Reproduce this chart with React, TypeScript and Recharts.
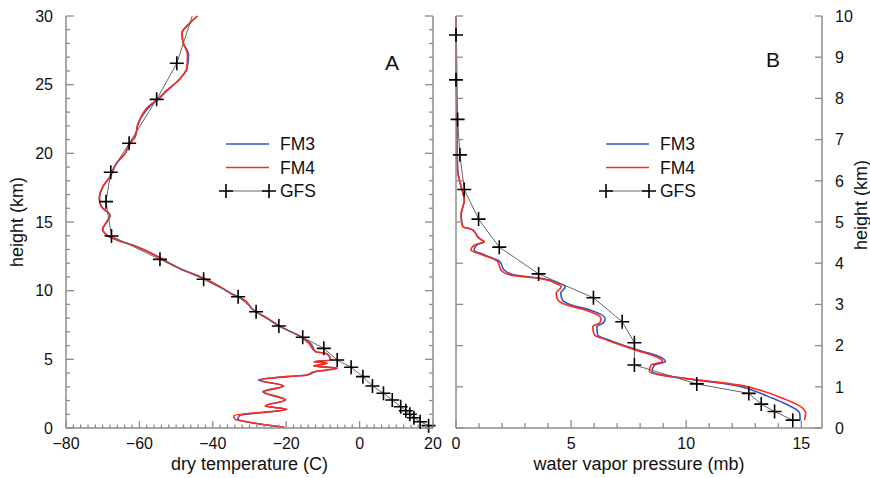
import React from 'react';
import { LineChart, Line, XAxis, YAxis, Legend } from 'recharts';

const FRAME = '#8c8c8c';
const BLUE = '#3554c9';
const RED = '#ff2a17';
const GFS_LINE = '#666666';

// panel A: dry temperature (C) against height (km), listed top to bottom
const fm4HgtA = [30.0, 29.5, 28.75, 28.0, 27.2, 26.2, 25.3, 24.6, 24.0, 23.4, 22.2, 21.2, 20.7, 20.0, 19.3, 18.3, 17.6, 16.7, 16.1, 15.5, 15.0, 14.5, 14.05, 13.8, 13.2, 12.4, 11.9, 11.6, 10.9, 10.2, 9.68, 9.44, 8.59, 7.99, 7.38, 6.65, 6.17, 5.56, 5.39, 4.95, 4.83, 4.71, 4.51, 4.35, 4.10, 3.86, 3.74, 3.50, 3.06, 2.64, 2.04, 1.60, 1.36, 0.90, 0.63, 0.35, 0.05];
const fm4TempA = [-44.2, -46.2, -48.4, -48.0, -46.9, -47.1, -49.4, -52.5, -54.8, -57.6, -60.3, -61.2, -62.6, -63.9, -66.2, -68.0, -69.9, -70.9, -70.3, -68.0, -68.9, -70.0, -68.9, -67.1, -60.7, -54.4, -51.2, -48.9, -42.5, -37.5, -34.3, -32.1, -28.9, -25.2, -21.6, -16.1, -13.9, -12.0, -8.8, -7.9, -12.5, -8.8, -12.5, -6.1, -12.5, -14.3, -19.8, -27.0, -20.7, -26.0, -20.2, -25.7, -19.8, -34.3, -33.9, -28.5, -20.5];
const fm3HgtA = fm4HgtA;
const fm3TempA = [-44.2, -46.2, -48.4, -48.0, -46.6, -47.0, -49.4, -52.3, -54.6, -57.2, -60.3, -61.2, -62.6, -63.9, -66.2, -68.0, -69.9, -70.9, -70.3, -68.0, -68.9, -70.0, -68.9, -67.1, -60.7, -54.4, -51.2, -48.9, -42.5, -37.5, -34.3, -32.1, -28.9, -25.2, -21.6, -16.0, -13.4, -12.0, -8.8, -7.9, -12.0, -8.8, -12.5, -6.1, -12.0, -14.3, -19.8, -27.6, -20.7, -26.4, -20.2, -25.7, -19.8, -32.8, -33.2, -28.5, -20.5];
const gfsHgtA = [30.0, 26.56, 23.93, 20.73, 18.62, 16.48, 13.98, 12.28, 10.83, 9.56, 8.47, 7.43, 6.61, 5.80, 4.95, 4.42, 3.74, 3.06, 2.53, 2.04, 1.55, 1.26, 1.0, 0.75, 0.46, 0.17];
const gfsTempA = [-45.6, -49.8, -55.3, -62.8, -67.8, -69.1, -67.6, -54.4, -42.5, -33.1, -28.2, -22.0, -15.5, -9.75, -6.1, -2.3, 0.9, 3.5, 6.5, 8.9, 11.2, 12.6, 13.7, 14.8, 16.5, 18.8];

// panel B: water vapor pressure (mb) against height (km)
const fm4HgtB = [10.0, 8.6, 7.5, 6.75, 6.26, 5.86, 5.53, 5.17, 4.89, 4.81, 4.60, 4.52, 4.44, 4.32, 4.20, 4.04, 3.83, 3.71, 3.63, 3.51, 3.43, 3.27, 3.11, 2.99, 2.86, 2.66, 2.56, 2.46, 2.26, 2.14, 1.89, 1.73, 1.61, 1.53, 1.37, 1.29, 1.18, 1.04, 0.92, 0.72, 0.56, 0.36, 0.19];
const fm4VapB = [0.0, 0.02, 0.04, 0.05, 0.07, 0.22, 0.36, 0.22, 0.29, 0.72, 1.01, 1.23, 0.80, 0.65, 1.16, 1.81, 1.96, 2.39, 3.62, 4.35, 4.57, 4.35, 4.42, 4.78, 5.65, 6.30, 6.25, 5.94, 6.01, 6.52, 7.81, 8.70, 8.98, 8.48, 8.40, 8.84, 10.29, 12.32, 13.19, 14.2, 14.85, 15.19, 15.14];
const fm3HgtB = fm4HgtB;
const fm3VapB = [0.0, 0.02, 0.04, 0.05, 0.07, 0.22, 0.36, 0.22, 0.29, 0.72, 1.01, 1.23, 0.90, 0.78, 1.25, 1.90, 2.10, 2.55, 3.75, 4.50, 4.75, 4.55, 4.62, 4.98, 5.85, 6.48, 6.42, 6.12, 6.15, 6.62, 7.90, 8.85, 9.10, 8.62, 8.52, 8.92, 10.25, 12.10, 12.85, 13.76, 14.42, 14.93, 14.95];
const gfsHgtB = [9.54, 8.45, 7.49, 6.63, 5.79, 5.07, 4.39, 3.74, 3.16, 2.58, 2.07, 1.53, 1.07, 0.84, 0.58, 0.40, 0.19];
const gfsVapB = [0.0, 0.0, 0.07, 0.17, 0.36, 0.98, 1.88, 3.59, 5.97, 7.22, 7.75, 7.75, 10.46, 12.72, 13.26, 13.84, 14.63];

const range = (a: number, b: number, s: number) =>
  Array.from({ length: Math.round((b - a) / s) + 1 }, (_, i) => a + i * s);

const TEMP_LABELS = [-80, -60, -40, -20, 0, 20];
const TEMP_TICKS = range(-80, 20, 2);
const HGT_A_LABELS = [0, 5, 10, 15, 20, 25, 30];
const HGT_A_TICKS = range(0, 30, 1);
const VAP_LABELS = [0, 5, 10, 15];
const VAP_TICKS = range(0, 15, 1);
const HGT_B_LABELS = [0, 1, 2, 3, 4, 5, 6, 7, 8, 9, 10];

const LEGEND_NAMES = ['FM3', 'FM4', 'GFS'];
const LEGEND_COLORS = [BLUE, RED, GFS_LINE];

const zip = (xs: number[], ys: number[]) => xs.map((x, i) => ({ x, y: ys[i] }));

const fm3A = zip(fm3TempA, fm3HgtA);
const fm4A = zip(fm4TempA, fm4HgtA);
const gfsA = zip(gfsTempA, gfsHgtA);
const fm3B = zip(fm3VapB, fm3HgtB);
const fm4B = zip(fm4VapB, fm4HgtB);
const gfsB = zip(gfsVapB, gfsHgtB);

const fmt = (v: number) => (v < 0 ? `\u2212${-v}` : `${v}`);

function FrameTick(props: any) {
  const { x, y, payload, side, labels, major, minor, showLabel } = props;
  const v = payload.value;
  const isMajor = labels.includes(v);
  const len = isMajor ? major : minor;
  const ts = { fontSize: 16, fill: '#111' };
  let line;
  let label = null;
  if (side === 'bottom') {
    line = <line x1={x} y1={y} x2={x} y2={y - len} />;
    if (showLabel && isMajor)
      label = <text x={x} y={y + 20.5} textAnchor="middle" {...ts}>{fmt(v)}</text>;
  } else if (side === 'top') {
    line = <line x1={x} y1={y} x2={x} y2={y + len} />;
  } else if (side === 'left') {
    line = <line x1={x} y1={y} x2={x + len} y2={y} />;
    if (showLabel && isMajor)
      label = <text x={x - 13} y={y + 5.7} textAnchor="end" {...ts}>{fmt(v)}</text>;
  } else {
    line = <line x1={x} y1={y} x2={x - len} y2={y} />;
    if (showLabel && isMajor)
      label = <text x={x + 13} y={y + 5.7} textAnchor="start" {...ts}>{fmt(v)}</text>;
  }
  return (
    <g>
      <g stroke={FRAME} strokeWidth={1.3}>{line}</g>
      {label}
    </g>
  );
}

function Cross({ cx, cy }: { cx: number; cy: number }) {
  return (
    <path
      d={`M${cx - 7},${cy}H${cx + 7}M${cx},${cy - 7}V${cy + 7}`}
      stroke="#000"
      strokeWidth={1.6}
      fill="none"
    />
  );
}

function LegendBox() {
  return (
    <svg width={120} height={72} style={{ display: 'block', overflow: 'visible' }}>
      {LEGEND_NAMES.map((name, i) => {
        const y = 12 + i * 23.5;
        return (
          <g key={name}>
            <line x1={8} x2={51} y1={y} y2={y} stroke={LEGEND_COLORS[i]} strokeWidth={i === 2 ? 1 : 1.6} />
            {i === 2 && <Cross cx={8} cy={y} />}
            {i === 2 && <Cross cx={51} cy={y} />}
            <text x={62} y={y + 6.3} fontSize={17.5} fill="#111">{name}</text>
          </g>
        );
      })}
    </svg>
  );
}

const titleStyle = { fontSize: 18, fill: '#111' };

const bottomTitle = (text: string) => ({ viewBox }: any) => (
  <text x={viewBox.x + viewBox.width / 2} y={viewBox.y + 42} textAnchor="middle" {...titleStyle}>
    {text}
  </text>
);

const sideTitle = (text: string, dx: number, dy: number) => ({ viewBox }: any) => (
  <text
    transform={`translate(${viewBox.x + dx},${viewBox.y + dy}) rotate(-90)`}
    textAnchor="middle"
    dominantBaseline="central"
    {...titleStyle}
  >
    {text}
  </text>
);

const axisLine = { stroke: FRAME, strokeWidth: 1.5 };
const common = { type: 'number' as const, interval: 0 as const, tickSize: 0, tickMargin: 0, tickLine: false, axisLine };

const panelLetter = (txt: string, left: number, top: number) => (
  <span
    style={{
      position: 'absolute',
      left,
      top,
      transform: 'translate(-50%, -50%)',
      fontSize: 21,
      lineHeight: 1,
      color: '#111',
    }}
  >
    {txt}
  </span>
);

export default function App() {
  return (
    <div
      style={{
        position: 'absolute',
        left: 0,
        top: 0,
        width: 870,
        height: 478,
        background: '#fff',
        fontFamily: '"Liberation Sans", Arial, Helvetica, sans-serif',
      }}
    >
      <div style={{ position: 'absolute', left: 0, top: 0 }}>
        <LineChart width={450} height={478} margin={{ top: 16, right: 0, bottom: 0, left: 0 }}>
          <XAxis
            {...common}
            xAxisId={0}
            dataKey="x"
            domain={[-80, 20]}
            ticks={TEMP_TICKS}
            height={50}
            tick={<FrameTick side="bottom" labels={TEMP_LABELS} major={7} minor={3.5} showLabel />}
            label={{ content: bottomTitle('dry temperature (C)') }}
          />
          <XAxis
            {...common}
            xAxisId="top"
            orientation="top"
            dataKey="x"
            domain={[-80, 20]}
            allowDataOverflow
            ticks={TEMP_TICKS}
            height={0}
            tick={<FrameTick side="top" labels={TEMP_LABELS} major={7} minor={3.5} />}
          />
          <YAxis
            {...common}
            yAxisId={0}
            domain={[0, 30]}
            ticks={HGT_A_TICKS}
            width={66}
            tick={<FrameTick side="left" labels={HGT_A_LABELS} major={8} minor={4} showLabel />}
            label={{ content: sideTitle('height (km)', 16.5, 206) }}
          />
          <YAxis
            {...common}
            yAxisId="right"
            orientation="right"
            domain={[0, 30]}
            allowDataOverflow
            ticks={HGT_A_TICKS}
            width={17}
            tick={<FrameTick side="right" labels={HGT_A_LABELS} major={8} minor={4} />}
          />
          <Line data={fm3A} dataKey="y" name="FM3" type="monotoneY" stroke={BLUE} strokeWidth={1.6} dot={false} activeDot={false} isAnimationActive={false} />
          <Line data={fm4A} dataKey="y" name="FM4" type="monotoneY" stroke={RED} strokeWidth={1.6} dot={false} activeDot={false} isAnimationActive={false} />
          <Line
            data={gfsA}
            dataKey="y"
            name="GFS"
            type="linear"
            stroke={GFS_LINE}
            strokeWidth={1}
            dot={(p: any) => (p.index === 0 ? <g key={p.index} /> : <Cross key={p.index} cx={p.cx} cy={p.cy} />)}
            activeDot={false}
            isAnimationActive={false}
          />
          <Legend
            layout="vertical"
            align="center"
            verticalAlign="middle"
            content={() => <LegendBox />}
            wrapperStyle={{ left: 218, top: 132, width: 120 }}
          />
        </LineChart>
        {panelLetter('A', 392, 62)}
      </div>

      <div style={{ position: 'absolute', left: 440, top: 0 }}>
        <LineChart width={430} height={478} margin={{ top: 16, right: 0, bottom: 0, left: 0 }}>
          <XAxis
            {...common}
            xAxisId={0}
            dataKey="x"
            domain={[0, 15.9]}
            ticks={VAP_TICKS}
            height={50}
            tick={<FrameTick side="bottom" labels={VAP_LABELS} major={8} minor={5} showLabel />}
            label={{ content: bottomTitle('water vapor pressure (mb)') }}
          />
          <XAxis
            {...common}
            xAxisId="top"
            orientation="top"
            dataKey="x"
            domain={[0, 15.9]}
            allowDataOverflow
            ticks={VAP_TICKS}
            height={0}
            tick={<FrameTick side="top" labels={VAP_LABELS} major={8} minor={5} />}
          />
          <YAxis
            {...common}
            yAxisId={0}
            domain={[0, 10]}
            ticks={HGT_B_LABELS}
            width={16}
            tick={<FrameTick side="left" labels={HGT_B_LABELS} major={7} minor={7} />}
          />
          <YAxis
            {...common}
            yAxisId="right"
            orientation="right"
            domain={[0, 10]}
            allowDataOverflow
            ticks={HGT_B_LABELS}
            width={48}
            tick={<FrameTick side="right" labels={HGT_B_LABELS} major={7} minor={7} showLabel />}
            label={{ content: sideTitle('height (km)', 38.5, 189) }}
          />
          <Line data={fm3B} dataKey="y" name="FM3" type="monotoneY" stroke={BLUE} strokeWidth={1.6} dot={false} activeDot={false} isAnimationActive={false} />
          <Line data={fm4B} dataKey="y" name="FM4" type="monotoneY" stroke={RED} strokeWidth={1.6} dot={false} activeDot={false} isAnimationActive={false} />
          <Line
            data={gfsB}
            dataKey="y"
            name="GFS"
            type="linear"
            stroke={GFS_LINE}
            strokeWidth={1}
            dot={(p: any) => <Cross key={p.index} cx={p.cx} cy={p.cy} />}
            activeDot={false}
            isAnimationActive={false}
          />
          <Legend
            layout="vertical"
            align="center"
            verticalAlign="middle"
            content={() => <LegendBox />}
            wrapperStyle={{ left: 158, top: 132, width: 120 }}
          />
        </LineChart>
        {panelLetter('B', 333, 59)}
      </div>
    </div>
  );
}
